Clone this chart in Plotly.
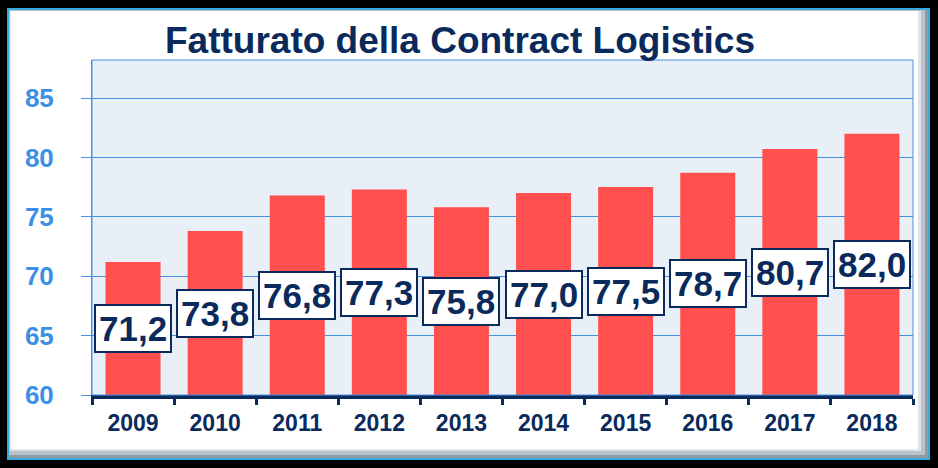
import plotly.graph_objects as go

years = ["2009", "2010", "2011", "2012", "2013", "2014", "2015", "2016", "2017", "2018"]
revenue = [71.2, 73.8, 76.8, 77.3, 75.8, 77.0, 77.5, 78.7, 80.7, 82.0]
y_ticks = [60, 65, 70, 75, 80, 85]
title_text = "Fatturato della Contract Logistics"

W, H = 938, 468
ML, MR, MT, MB = 92, 25, 60, 73
PW, PH = W - ML - MR, H - MT - MB
Y0, Y1 = 60, 88.2

FONT = "Liberation Sans, Arial, sans-serif"
NAVY = "#0b2a5c"
BLUE = "#4a90e2"


def px_x(p):
    return (p - ML) / PW


def px_y(p):
    return (H - MB - p) / PH


fig = go.Figure()
fig.add_trace(go.Bar(
    x=years, y=revenue,
    marker=dict(color="#ff4f4f", line=dict(width=0)),
    hoverinfo="skip",
))

shapes = []


def rect(x0, y0, x1, y1, fill, layer="below"):
    shapes.append(dict(
        type="rect", xref="paper", yref="paper",
        x0=px_x(x0), x1=px_x(x1), y0=px_y(y1), y1=px_y(y0),
        fillcolor=fill, line=dict(width=0), layer=layer,
    ))


# panel frame: cyan edge, grey bevel, white face
rect(7, 8, 930, 460, "#35a8dc")
rect(9, 10, 928, 458, "#8e9aa4")
rect(9, 10, 925, 455, "#b9c2ca")
rect(10, 11, 921, 451, "#dfe4e8")
rect(11, 11, 918, 449, "#ffffff")
# plot area
rect(ML, MT, W - MR, H - MB, "#e8eff7")
# plot border (thin blue)
shapes.append(dict(type="rect", xref="paper", yref="paper", x0=0, x1=1, y0=0, y1=1,
                   line=dict(color=BLUE, width=1), fillcolor="rgba(0,0,0,0)", layer="above"))

annotations = []
for i, v in enumerate(revenue):
    annotations.append(dict(
        x=i, y=(Y0 + v) / 2, xref="x", yref="y",
        text=f"<b>{v:.1f}</b>".replace(".", ","),
        showarrow=False,
        font=dict(family=FONT, size=35, color=NAVY),
        bgcolor="#ffffff", bordercolor=NAVY, borderwidth=2, borderpad=3,
        xanchor="center", yanchor="middle",
    ))

fig.update_layout(
    width=W, height=H,
    margin=dict(l=ML, r=MR, t=MT, b=MB, pad=0),
    paper_bgcolor="#000000",
    plot_bgcolor="rgba(0,0,0,0)",
    showlegend=False,
    bargap=0.33,
    shapes=shapes,
    annotations=annotations,
    title=dict(
        text=f"<b>{title_text}</b>",
        x=460 / W, xanchor="center", xref="container",
        y=1 - 40 / H, yanchor="middle", yref="container",
        font=dict(family=FONT, size=37, color=NAVY),
    ),
    xaxis=dict(
        type="category",
        range=[-0.5, len(years) - 0.5],
        showgrid=False,
        showline=True, linecolor=NAVY, linewidth=4,
        ticks="outside", tickson="boundaries", ticklen=6, tickwidth=3, tickcolor=NAVY,
        tickfont=dict(family=FONT, size=23, color=NAVY),
        tickprefix="<b>", ticksuffix="</b>",
        tickangle=0,
        ticklabelstandoff=4,
        fixedrange=True,
    ),
    yaxis=dict(
        range=[Y0, Y1],
        tickvals=y_ticks,
        ticktext=[f"<b>{t}</b>" for t in y_ticks],
        showgrid=True, gridcolor=BLUE, gridwidth=1,
        zeroline=False,
        showline=True, linecolor=BLUE, linewidth=1,
        ticks="outside", ticklen=10, tickwidth=1, tickcolor=BLUE,
        tickfont=dict(family=FONT, size=26, color="#3d8fe6"),
        ticklabelstandoff=22,
        fixedrange=True,
    ),
)

fig.write_html(
    "out.html",
    config={"displayModeBar": False},
    post_script="document.body.style.margin='0';document.body.style.background='#000';",
)
